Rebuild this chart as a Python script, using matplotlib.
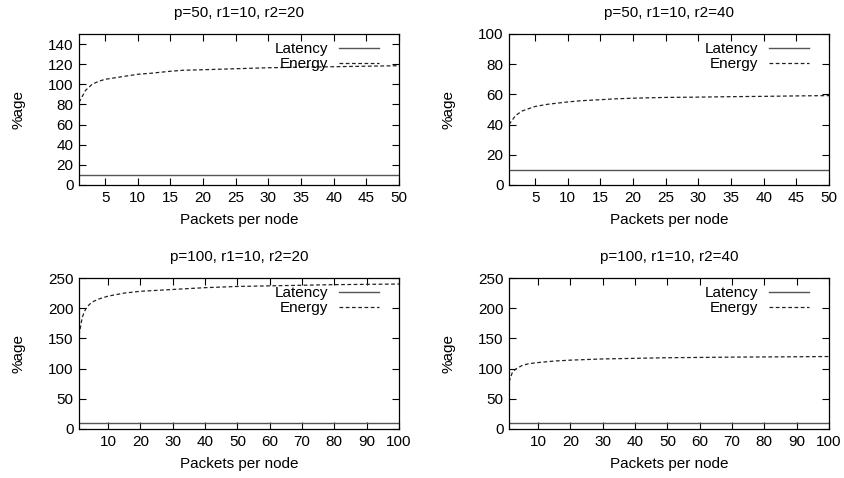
import matplotlib
matplotlib.use("Agg")
import matplotlib.pyplot as plt

plt.rcParams['font.family'] = ['Liberation Sans', 'DejaVu Sans']

titles = ["p=50, r1=10, r2=20", "p=50, r1=10, r2=40",
          "p=100, r1=10, r2=20", "p=100, r1=10, r2=40"]

# Energy samples (x, y) per panel
x50 = [1, 2, 3, 4, 5, 7, 10, 12, 15, 17, 20, 25, 30, 35, 40, 45, 50]
e_tl = [82, 94, 100, 103, 105, 107, 110, 111, 113, 114, 114.5, 115.5, 116.5, 117, 117.5, 118, 118.5]
e_tr = [40, 46, 49, 50.5, 52, 53.5, 55, 55.8, 56.5, 57, 57.5, 58, 58.2, 58.5, 58.7, 59, 59.2]
x100 = [1, 2, 3, 4, 5, 7, 10, 15, 20, 30, 40, 50, 60, 70, 80, 90, 100]
e_bl = [155, 185, 198, 205, 210, 215, 220, 225, 228, 231, 234, 236, 237, 238, 239, 239.5, 240]
e_br = [78, 93, 99, 102, 105, 108, 110, 112.5, 114, 116, 117, 118, 118.5, 119, 119.3, 119.6, 120]
latency = 10

xs = [x50, x50, x100, x100]
energies = [e_tl, e_tr, e_bl, e_br]
ylims = [150, 100, 250, 250]
yticks = [list(range(0, 141, 20)), list(range(0, 101, 20)),
          list(range(0, 251, 50)), list(range(0, 251, 50))]
xticks = [list(range(5, 51, 5)), list(range(5, 51, 5)),
          list(range(10, 101, 10)), list(range(10, 101, 10))]
xmaxs = [50, 50, 100, 100]

W, H = 844, 478
fig = plt.figure(figsize=(W / 100, H / 100), dpi=100)
# axes boxes in pixels (left, top, right, bottom)
boxes = [(79, 34, 399, 185), (509, 34, 829, 185),
         (79, 278, 399, 429), (509, 278, 829, 429)]

for i in range(4):
    l, t, r, b = boxes[i]
    ax = fig.add_axes([l / W, 1 - b / H, (r - l) / W, (b - t) / H])
    ax.plot([1, xmaxs[i]], [latency, latency], color='#555555', lw=1.0, label='Latency')
    ax.plot(xs[i], energies[i], color='#222222', lw=0.9, ls=(0, (3, 2)), label='Energy')
    ax.set_xlim(1, xmaxs[i])
    ax.set_ylim(0, ylims[i])
    ax.set_xticks(xticks[i])
    ax.set_yticks(yticks[i])
    ax.tick_params(direction='in', top=True, right=True, labelsize=11, length=5, width=0.8, pad=4)
    for s in ax.spines.values():
        s.set_linewidth(0.9)
    ax.set_title(titles[i], fontsize=11, pad=12)
    ax.set_xlabel('Packets per node', fontsize=11, labelpad=6)
    ax.set_ylabel('%age', fontsize=11, labelpad=16)
    ax.legend(loc='upper right', frameon=False, markerfirst=False, fontsize=11,
              handlelength=2.6, handletextpad=0.7, labelspacing=0.05,
              bbox_to_anchor=(1 - 14 / (r - l), 1 - 2 / (b - t)),
              borderaxespad=0.0)

fig.savefig('out.png', dpi=100)
